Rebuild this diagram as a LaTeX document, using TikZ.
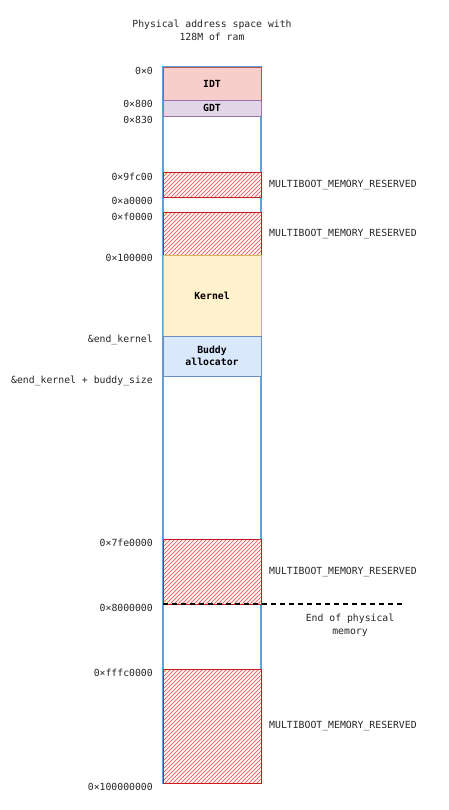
\documentclass[tikz,border=0pt]{standalone}
\usepackage{fontspec}
\setmonofont{DejaVu Sans Mono}
\definecolor{colblue}{RGB}{100,160,215}
\definecolor{idtfill}{RGB}{248,206,204}
\definecolor{idtdraw}{RGB}{184,84,80}
\definecolor{gdtfill}{RGB}{225,213,231}
\definecolor{gdtdraw}{RGB}{150,115,166}
\definecolor{kfill}{RGB}{255,242,204}
\definecolor{kdraw}{RGB}{214,182,86}
\definecolor{bfill}{RGB}{218,232,252}
\definecolor{bdraw}{RGB}{108,142,191}
\definecolor{resdraw}{RGB}{200,30,30}
\definecolor{reshatch}{RGB}{240,110,110}
\newcommand{\myhatchbox}[2]{%
  \begin{scope}
    \clip (163,#1) rectangle (261,#2);
    \fill[white] (163,#1) rectangle (261,#2);
    \draw[color=reshatch, line width=0.8pt]
      \foreach \k in {0,4,...,232} { (163+\k,#1) -- ++(-130,130) };
  \end{scope}
  \draw[draw=resdraw, line width=1pt] (163,#1) rectangle (261,#2);
}
\begin{document}
\begin{tikzpicture}[x=1pt,y=-1pt,
  lab/.style={font=\ttfamily\fontsize{9.8}{12.5}\selectfont, text=black!85, inner sep=0pt},
  addr/.style={lab, anchor=east},
  rlab/.style={lab, anchor=west},
  blk/.style={font=\ttfamily\bfseries\fontsize{9.8}{12.5}\selectfont, align=center, inner sep=0pt}
]
\useasboundingbox (0,0) rectangle (449,810);
% title
\node[lab, align=center] (title) at (212,30.5) {Physical address space with\\128M of ram};
% column outline
\draw[colblue, line width=1.1pt] (163,67) rectangle (261,783);
% blocks
\draw[fill=idtfill, draw=idtdraw, line width=0.8pt] (163,67) rectangle (261,100);
\node[blk] (idt) at (212,83.5) {IDT};
\draw[fill=gdtfill, draw=gdtdraw, line width=0.8pt] (163,100) rectangle (261,116);
\node[blk] (gdt) at (212,108) {GDT};
\myhatchbox{173}{198}
\myhatchbox{213}{255}
\draw[fill=kfill, draw=kdraw, line width=0.8pt] (163,255) rectangle (261,336);
\node[blk] (kernel) at (212,295.5) {Kernel};
\draw[fill=bfill, draw=bdraw, line width=0.8pt] (163,336) rectangle (261,376);
\node[blk] (buddy) at (212,356) {Buddy\\allocator};
\myhatchbox{539}{604}
\myhatchbox{669}{783}
% end of physical memory
\coordinate (d1) at (163,604);
\coordinate (d2) at (402,604);
\draw[black, dash pattern=on 5pt off 4pt, line width=1.3pt] (d1) -- (d2);
\node[lab, align=center] (eopm) at (350,625.5) {End of physical\\memory};
% address labels
\node[addr] (a0) at (153,71) {0×0};
\node[addr] (a1) at (153,104) {0×800};
\node[addr] (a2) at (153,120) {0×830};
\node[addr] (a3) at (153,177) {0×9fc00};
\node[addr] (a4) at (153,201) {0×a0000};
\node[addr] (a5) at (153,217) {0×f0000};
\node[addr] (a6) at (153,258) {0×100000};
\node[addr] (a7) at (153,340) {\&end\_kernel};
\node[addr] (a8) at (153,381) {\&end\_kernel + buddy\_size};
\node[addr] (a9) at (153,543) {0×7fe0000};
\node[addr] (a10) at (153,608) {0×8000000};
\node[addr] (a11) at (153,673) {0×fffc0000};
\node[addr] (a12) at (153,787) {0×100000000};
% reserved labels
\node[rlab] (r1) at (269,185) {MULTIBOOT\_MEMORY\_RESERVED};
\node[rlab] (r2) at (269,234) {MULTIBOOT\_MEMORY\_RESERVED};
\node[rlab] (r3) at (269,572) {MULTIBOOT\_MEMORY\_RESERVED};
\node[rlab] (r4) at (269,726) {MULTIBOOT\_MEMORY\_RESERVED};
\end{tikzpicture}
\end{document}
